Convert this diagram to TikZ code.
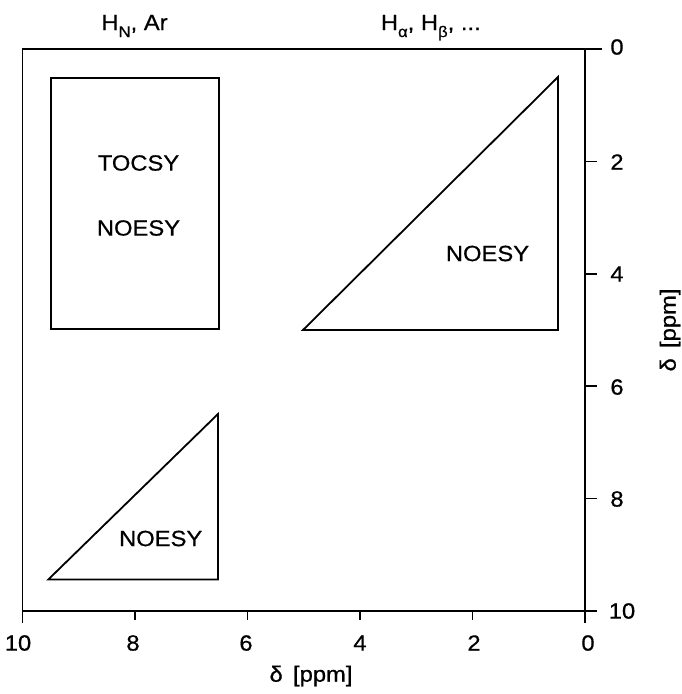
\documentclass[tikz,border=0pt]{standalone}
\usepackage{fontspec}
\setmainfont{Liberation Sans}[FakeStretch=1.08,FakeBold=0.6]
\newcommand\lowsub[1]{\raisebox{-0.32em}{\fontsize{15.5}{15.5}\selectfont #1}}
\begin{document}
\begin{tikzpicture}[x=1pt,y=-1pt,line width=1.8pt,
  lbl/.style={font=\fontsize{22}{26}\selectfont,inner sep=0pt},
  tick/.style={line width=1.6pt}]
\useasboundingbox (0,0) rectangle (681,694);
\fill[white] (0,0) rectangle (681,694);
% frame and axes
\draw (22.5,623) -- (22.5,49) -- (602,49);
\draw (585,49) -- (585,623);
\draw (22.5,611) -- (597,611);
\foreach \yy in {161.4,273.8,386.2,498.6} \draw[tick] (585,\yy) -- (597,\yy);
\foreach \xx in {135,247.5,360,472.5} \draw[tick] (\xx,611) -- (\xx,620);
% regions
\draw (50.7,77.7) rectangle (219.3,329);
\draw (303,330) -- (558,330) -- (558,77) -- cycle;
\draw (48.3,579.5) -- (218,579.5) -- (218,414) -- cycle;
% texts
\node[lbl,anchor=base west] (hn) at (100.5,30) {H\lowsub{N}, Ar};
\node[lbl,anchor=base west] (ha) at (380,30) {H\lowsub{α}, H\lowsub{β}, ...};
\node[lbl] (tocsy) at (138.5,163) {TOCSY};
\node[lbl] (noesyA) at (138.5,228) {NOESY};
\node[lbl] (noesyB) at (487.5,253.5) {NOESY};
\node[lbl] (noesyC) at (160.7,538.5) {NOESY};
% bottom tick labels
\node[lbl] (b10) at (18,643) {10};
\node[lbl] (b8) at (133,643) {8};
\node[lbl] (b6) at (246,643) {6};
\node[lbl] (b4) at (360,643) {4};
\node[lbl] (b2) at (474,643) {2};
\node[lbl] (b0) at (588,643) {0};
% right tick labels
\node[lbl] (r0) at (617,47) {0};
\node[lbl] (r2) at (617,162) {2};
\node[lbl] (r4) at (617,274) {4};
\node[lbl] (r6) at (617,387) {6};
\node[lbl] (r8) at (617,499) {8};
\node[lbl] (r10) at (622,611) {10};
% axis titles
\node[lbl] (xt) at (311,676) {δ\, [ppm]};
\node[lbl,rotate=90] (yt) at (670,330) {δ\, [ppm]};
\end{tikzpicture}
\end{document}
